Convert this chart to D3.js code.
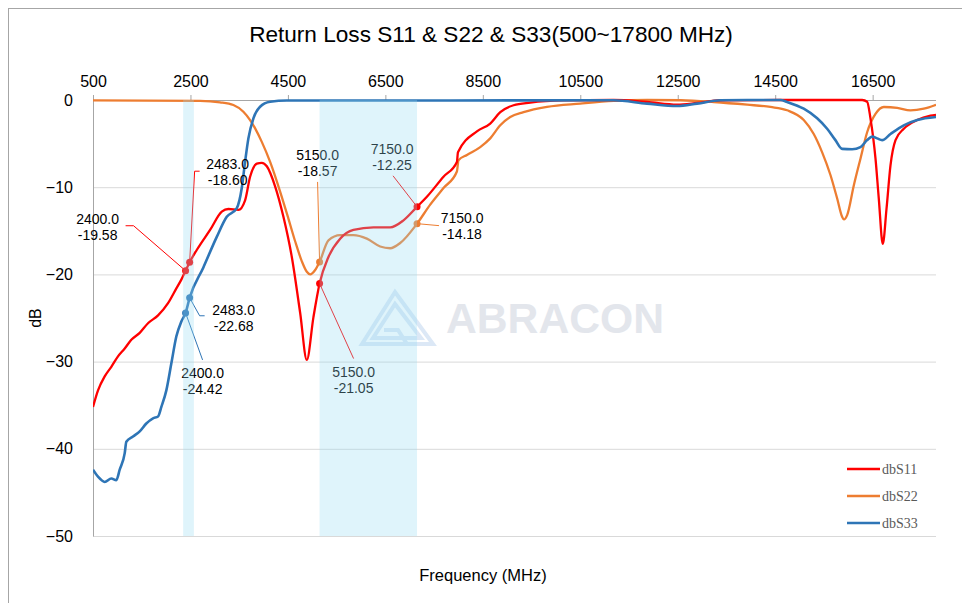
<!DOCTYPE html>
<html>
<head>
<meta charset="utf-8">
<script src="https://cdn.jsdelivr.net/npm/d3@7"></script>
<style>
  body { margin: 0; background: #fff; }
  svg { display: block; font-family: "Liberation Sans", Arial, sans-serif; }
</style>
</head>
<body>
<script>
// ---- data ----
const freqTicks = [500, 2500, 4500, 6500, 8500, 10500, 12500, 14500, 16500];
const dbTicks = [0, -10, -20, -30, -40, -50];
const seriesNames = ["dbS11", "dbS22", "dbS33"];

// [MHz, dB]
const s11 = [
    [500, -35.2], [603, -33.3], [740, -31.7], [876, -30.6], [1013, -29.4], [1151, -28.5],
    [1286, -27.5], [1459, -26.7], [1629, -25.6], [1835, -24.7], [2040, -23.3], [2211, -21.6],
    [2313, -20.6], [2400, -19.58], [2483, -18.60], [2629, -17.2], [2903, -14.9], [3143, -12.8],
    [3278, -12.5], [3484, -12.6], [3621, -11.5], [3724, -8.8], [3862, -7.3], [3964, -7.2],
    [4067, -7.6], [4237, -9.9], [4408, -13.4], [4580, -18.0], [4751, -24.4], [4888, -29.8],
    [5024, -24.9], [5150, -21.05], [5332, -18.0], [5572, -15.9], [5845, -14.9], [6256, -14.6],
    [6599, -14.6], [6872, -13.8], [7150, -12.25], [7352, -11.1], [7693, -8.8], [7968, -7.1],
    [7990, -6.0], [8379, -3.6], [8652, -2.7], [8858, -1.4], [9131, -0.6], [9474, -0.3],
    [10151, -0.05], [11178, 0], [11870, -0.23], [12486, -0.54], [12897, -0.34], [13374, -0.03],
    [14607, 0], [15839, 0], [16285, 0], [16387, -0.2], [16455, -2.1], [16558, -6.7],
    [16626, -11.3], [16708, -16.5], [16784, -12.5], [16866, -7.5], [16969, -4.6], [17139, -3.3],
    [17414, -2.3], [17687, -1.8], [17800, -1.7]
];
const s22 = [
    [500, -0.05], [2697, -0.1], [3108, -0.26], [3381, -0.57], [3586, -1.34], [3724, -2.3],
    [3827, -3.25], [3964, -4.8], [4135, -7.1], [4340, -10.5], [4510, -13.6], [4648, -16.2],
    [4786, -18.5], [4888, -19.7], [4956, -20.0], [5059, -19.5], [5150, -18.57], [5332, -16.1],
    [5572, -15.5], [5845, -15.5], [6120, -15.9], [6393, -16.8], [6599, -17.0], [6804, -16.4],
    [7150, -14.18], [7420, -12.0], [7693, -10.1], [7968, -8.2], [8001, -6.9], [8174, -6.3],
    [8447, -5.4], [8652, -4.4], [8858, -2.9], [9063, -1.95], [9336, -1.4], [9817, -0.8],
    [10500, -0.42], [11184, -0.11], [11870, 0], [12558, -0.03], [13238, -0.23], [13924, -0.54],
    [14402, -0.8], [14745, -1.18], [15086, -2.3], [15291, -3.9], [15464, -6.0], [15634, -8.6],
    [15772, -11.3], [15874, -13.4], [15911, -13.7], [15977, -13.2], [16113, -9.8], [16251, -6.7],
    [16387, -3.7], [16558, -1.6], [16729, -0.8], [17004, -0.9], [17277, -1.2], [17550, -1.0],
    [17800, -0.54]
];
const s33 = [
    [500, -42.4], [603, -43.2], [740, -43.8], [876, -43.4], [978, -43.6], [1048, -42.4],
    [1151, -40.5], [1184, -39.2], [1321, -38.6], [1459, -38.0], [1594, -37.1], [1732, -36.5],
    [1835, -36.3], [1903, -35.2], [2005, -33.3], [2108, -30.2], [2211, -27.1], [2313, -25.4],
    [2400, -24.42], [2483, -22.68], [2765, -19.2], [3040, -15.7], [3245, -13.4],
    [3451, -12.4], [3553, -10.1], [3621, -7.1], [3689, -4.4], [3792, -2.1], [3929, -0.77],
    [4135, -0.2], [4478, -0.05], [7831, -0.05], [11178, -0.03], [11870, -0.42], [12486, -0.69],
    [12897, -0.42], [13374, -0.03], [13924, 0], [14607, 0], [14745, -0.23], [15086, -1.0],
    [15361, -2.1], [15566, -3.3], [15736, -4.6], [15874, -5.6], [16079, -5.65], [16250, -5.4],
    [16387, -4.6], [16490, -4.2], [16593, -4.4], [16695, -4.6], [16866, -3.9], [17139, -2.9],
    [17414, -2.3], [17800, -1.95]
];

// marked points: series index, MHz, dB
const markSeries = [0, 0, 2, 2, 1, 0, 0, 1];
const markFreq   = [2400, 2483, 2483, 2400, 5150, 5150, 7150, 7150];
const markDb     = [-19.58, -18.60, -22.68, -24.42, -18.57, -21.05, -12.25, -14.18];

// shaded bands (MHz)
const bandStart = [2350, 5150];
const bandEnd   = [2570, 7150];

function go() {
    const width = 962, height = 603;
    const left = 93, right = 936, top = 100, bottom = 536;
    const colors = ["#ff0000", "#ed7d31", "#2e75b6"];

    // label placement relative to marker: text centre (tx, ty of first line), leader points
    const labelPos = [
        {tx: -88, ty: -47, lead: [[-60, -45], [-52, -45]]},
        {tx: 38, ty: -93, lead: [[10, -91], [5, -91]]},
        {tx: 44, ty: 17, lead: [[15, 18], [10, 18]]},
        {tx: 17, ty: 65, lead: [[17, 47]]},
        {tx: -2, ty: -102, lead: [[-2, -80]]},
        {tx: 34, ty: 93, lead: [[34, 75]]},
        {tx: -25, ty: -53, lead: [[-24, -31]]},
        {tx: 45, ty: -1, lead: [[22, 2]]}
    ];

    const x = d3.scaleLinear().domain([500, 17800]).range([left, right]);
    const y = d3.scaleLinear().domain([0, -50]).range([top, bottom]);

    const svg = d3.select("body").append("svg")
        .attr("width", width)
        .attr("height", height);

    // chart frame
    svg.append("rect")
        .attr("x", 8.5).attr("y", 8.5)
        .attr("width", 1000).attr("height", 700)
        .attr("fill", "none")
        .attr("stroke", "#a6a6a6");

    svg.append("text")
        .attr("x", 491).attr("y", 42)
        .attr("text-anchor", "middle")
        .attr("font-size", 22.6)
        .attr("fill", "#000")
        .text("Return Loss S11 & S22 & S33(500~17800 MHz)");

    // horizontal grid
    svg.append("g")
        .selectAll("line")
        .data(dbTicks.filter(d => d != 0))
        .enter().append("line")
        .attr("x1", left).attr("x2", right)
        .attr("y1", d => y(d) + 0.5).attr("y2", d => y(d) + 0.5)
        .attr("stroke", "#d9d9d9")
        .attr("stroke-width", 1);

    // watermark
    const wm = svg.append("g");
    wm.append("path")
        .attr("d", "M362,344 L395,292 L433,344 Z M373,338 L395,304 L421,338 Z M384,330 L398,330 L407,344")
        .attr("fill", "none")
        .attr("stroke", "#dce8f6")
        .attr("stroke-width", 4);
    wm.append("text")
        .attr("x", 446).attr("y", 333)
        .attr("font-size", 43)
        .attr("font-weight", "bold")
        .attr("textLength", 218)
        .attr("lengthAdjust", "spacingAndGlyphs")
        .attr("fill", "#e3e6ec")
        .text("ABRACON");

    // top axis
    const xAxis = svg.append("g")
        .attr("transform", "translate(0," + top + ")")
        .call(d3.axisTop(x).tickValues(freqTicks).tickSize(5).tickPadding(8).tickFormat(d3.format("d")));
    xAxis.select(".domain").attr("stroke", "#a6a6a6").attr("d", "M" + left + ",0.5H" + right);
    xAxis.selectAll(".tick line").attr("stroke", "#a6a6a6");
    xAxis.selectAll("text").attr("font-size", 16).attr("fill", "#000")
        .attr("font-family", "Liberation Sans, Arial, sans-serif");

    // left axis
    const yAxis = svg.append("g")
        .attr("transform", "translate(" + left + ",0)")
        .call(d3.axisLeft(y).tickValues(dbTicks).tickSize(0).tickPadding(20));
    yAxis.select(".domain").attr("stroke", "#a6a6a6");
    yAxis.selectAll("text").attr("font-size", 16).attr("fill", "#000")
        .attr("font-family", "Liberation Sans, Arial, sans-serif");

    svg.append("text")
        .attr("transform", "translate(41,318) rotate(-90)")
        .attr("text-anchor", "middle")
        .attr("font-size", 16)
        .text("dB");

    svg.append("text")
        .attr("x", 483).attr("y", 581)
        .attr("text-anchor", "middle")
        .attr("font-size", 16.5)
        .text("Frequency (MHz)");

    // curves
    svg.append("clipPath").attr("id", "plot")
        .append("rect")
        .attr("x", left).attr("y", top - 2)
        .attr("width", right - left).attr("height", bottom - top + 2);

    const lineFunction = d3.line()
        .x(function(d) { return x(d[0]); })
        .y(function(d) { return y(d[1]); })
        .curve(d3.curveMonotoneX);

    const curves = svg.append("g").attr("clip-path", "url(#plot)");
    [s22, s11, s33].forEach(function(s, i) {
        const idx = [1, 0, 2][i];
        curves.append("path")
            .datum(s)
            .attr("d", lineFunction)
            .attr("fill", "none")
            .attr("stroke", colors[idx])
            .attr("stroke-width", idx == 2 ? 2.6 : 2.3)
            .attr("stroke-linejoin", "round");
    });

    // marked points with labels
    const marks = markFreq.map(function(f, i) {
        return {series: markSeries[i], f: f, db: markDb[i], pos: labelPos[i]};
    });

    const ann = svg.append("g");
    marks.forEach(function(m) {
        const mx = x(m.f), my = y(m.db);
        const pts = m.pos.lead.map(p => [mx + p[0], my + p[1]]).concat([[mx, my]]);
        ann.append("path")
            .attr("d", d3.line()(pts))
            .attr("fill", "none")
            .attr("stroke", colors[m.series])
            .attr("stroke-width", 1);
        ann.append("circle")
            .attr("cx", mx).attr("cy", my)
            .attr("r", 3.5)
            .attr("fill", colors[m.series]);
        const t = ann.append("text")
            .attr("text-anchor", "middle")
            .attr("font-size", 14)
            .attr("fill", "#000");
        t.append("tspan").attr("x", mx + m.pos.tx).attr("y", my + m.pos.ty).text(m.f.toFixed(1));
        t.append("tspan").attr("x", mx + m.pos.tx).attr("y", my + m.pos.ty + 16).text(m.db.toFixed(2));
    });

    // shaded bands sit on top, semi transparent
    svg.append("g")
        .selectAll("rect")
        .data(bandStart)
        .enter().append("rect")
        .attr("x", d => x(d))
        .attr("width", (d, i) => x(bandEnd[i]) - x(d))
        .attr("y", top)
        .attr("height", bottom - top)
        .attr("fill", "#96d9f1")
        .attr("fill-opacity", 0.3);

    // legend
    const legend = svg.append("g");
    seriesNames.forEach(function(name, i) {
        const ly = 469 + i * 27;
        legend.append("line")
            .attr("x1", 847).attr("x2", 880)
            .attr("y1", ly).attr("y2", ly)
            .attr("stroke", colors[i])
            .attr("stroke-width", 2.3);
        legend.append("text")
            .attr("x", 882).attr("y", ly + 5)
            .attr("font-family", "Liberation Serif, Times New Roman, serif")
            .attr("font-size", 14)
            .attr("fill", "#595959")
            .text(name);
    });
}

window.onload = function() {
    go();
}
</script>
</body>
</html>
